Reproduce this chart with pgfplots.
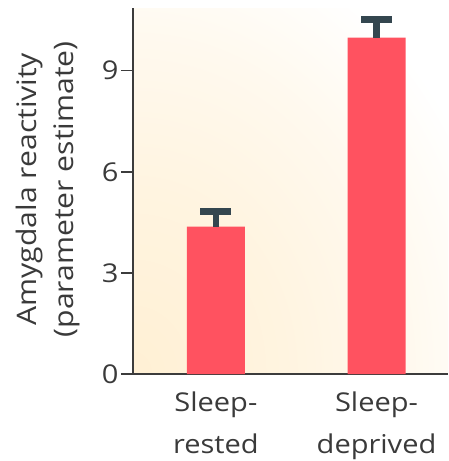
\documentclass[border=0pt]{standalone}
\usepackage{pgfplots}
\pgfplotsset{compat=1.18}
\usepackage{fontspec}
\setmainfont[FakeStretch=1.12]{Open Sans}

\definecolor{barred}{RGB}{255,82,96}
\definecolor{errgray}{RGB}{52,70,79}
\definecolor{axisgray}{RGB}{60,60,60}
\definecolor{txtgray}{RGB}{58,58,58}
\definecolor{glowA}{RGB}{255,240,212}
\definecolor{glowB}{RGB}{255,244,224}
\definecolor{glowC}{RGB}{255,249,238}

% soft warm glow, fading to white at the rim of the shaded path
\pgfdeclareradialshading{glow}{\pgfpoint{0bp}{0bp}}{%
  color(0bp)=(glowA); color(10bp)=(glowB); color(18bp)=(glowC);
  color(25bp)=(white); color(50bp)=(white)}

\newcommand{\labelfont}{\fontsize{26}{42}\selectfont}

\begin{document}
\begin{tikzpicture}
\begin{axis}[
  set layers,
  at={(133bp,-374bp)}, anchor=south west,
  scale only axis, width=315bp, height=366bp,
  xmin=-0.516, xmax=1.445, ymin=0, ymax=10.86,
  axis lines=left,
  axis line style={-, line width=1.6bp, draw=axisgray},
  xtick={0,1},
  xticklabels={{Sleep-\\rested},{Sleep-\\deprived}},
  xtick style={draw=none},
  xticklabel style={align=center, font=\labelfont, text=txtgray, yshift=-2bp},
  ytick={0,3,6,9},
  tick align=outside, major tick length=12bp,
  ytick style={line width=1.6bp, draw=axisgray},
  yticklabel style={font=\labelfont, text=txtgray, xshift=1bp},
  /pgf/number format/assume math mode=true,
  ylabel={Amygdala reactivity\\(parameter estimate)},
  ylabel style={align=center, font=\fontsize{27}{38}\selectfont, text=txtgray,
    at={(axis description cs:-0.27,0.505)}, anchor=center},
]
% warm glow in the lower left of the plotting area
\begin{pgfonlayer}{axis background}
  \begin{scope}
    \clip (axis cs:-0.516,0) rectangle (axis cs:1.445,10.86);
    \shade[shading=glow] (axis cs:-0.516,0) ellipse [x radius=380bp, y radius=460bp];
  \end{scope}
\end{pgfonlayer}

\addplot[ybar, bar width=58bp, fill=barred, draw=none,
  error bars/.cd, y dir=plus, y explicit, error mark=|,
  error bar style={line width=6.5bp, draw=errgray},
  error mark options={line width=6.5bp, mark size=15.5bp, draw=errgray}]
  coordinates {(0,4.37) +- (0,0.45) (1,9.98) +- (0,0.54)};
\end{axis}
\pgfresetboundingbox
\path[use as bounding box] (0bp,0bp) rectangle (449bp,-461bp);
\end{tikzpicture}
\end{document}
